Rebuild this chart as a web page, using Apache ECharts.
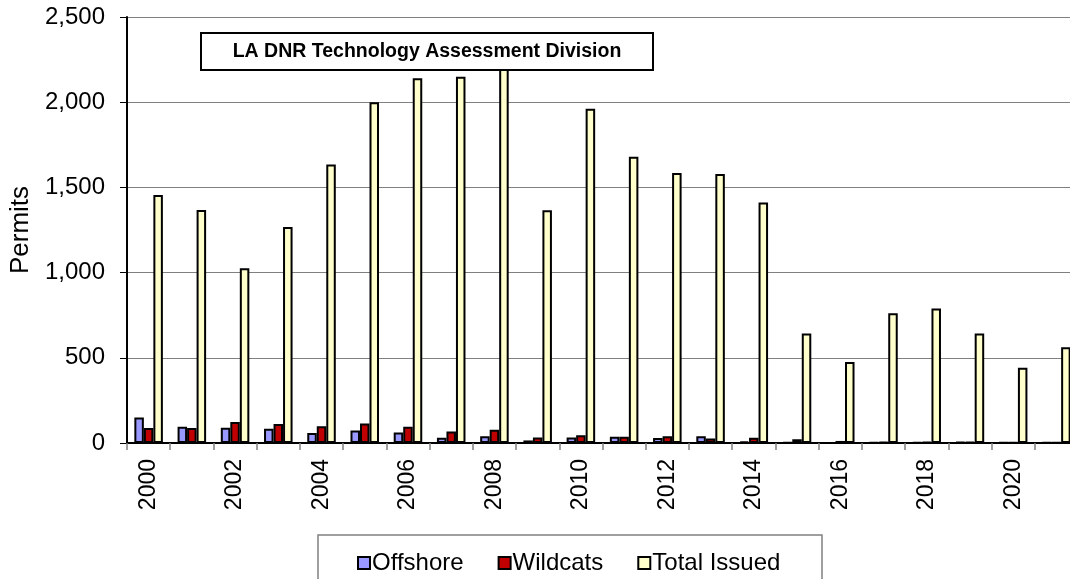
<!DOCTYPE html>
<html lang="en">
<head>
<meta charset="utf-8" />
<title>Permits</title>
<script src="https://cdn.jsdelivr.net/npm/echarts@6/dist/echarts.min.js"></script>
<style>
  html, body { margin: 0; padding: 0; background: #fff; }
  #chart { width: 1070px; height: 579px; }
</style>
</head>
<body>
<div id="chart"></div>
<script type="text/javascript">
// data
const years = ['2000', '2001', '2002', '2003', '2004', '2005', '2006', '2007', '2008', '2009', '2010',
               '2011', '2012', '2013', '2014', '2015', '2016', '2017', '2018', '2019', '2020', '2021'];
const offshore = [150, 96, 90, 84, 59, 74, 62, 31, 39, 15, 33, 37, 29, 39, 8, 4, 1, 3, 4, 5, 2, 2];
const wildcats = [88, 88, 123, 112, 98, 115, 96, 68, 78, 33, 45, 37, 39, 27, 31, 22, 12, 6, 6, 5, 3, 4];
const totalIssued = [1455, 1368, 1025, 1268, 1635, 2000, 2140, 2150, 2220, 1366, 1961,
                     1680, 1584, 1578, 1412, 643, 476, 761, 790, 643, 441, 562];
const seriesNames = ['Offshore', 'Wildcats', 'Total Issued'];
const titleText = 'LA DNR Technology Assessment Division';

const font = '"Liberation Sans", Arial, sans-serif';
const chart = echarts.init(document.getElementById('chart'));

function barSeries(name, data, color) {
  return {
    name: name,
    type: 'bar',
    data: data,
    barGap: '0%',
    barCategoryGap: '34%',
    itemStyle: { color: color, borderColor: '#000', borderWidth: 2 },
    animation: false
  };
}

const option = {
  animation: false,
  textStyle: { fontFamily: font },
  grid: { left: 127, right: -8, top: 17, bottom: 136, containLabel: false, outerBoundsMode: 'none' },
  legend: {
    data: seriesNames,
    left: 352,
    top: 546,
    icon: 'rect',
    itemWidth: 12,
    itemHeight: 12,
    itemGap: 34,
    textStyle: { fontSize: 24, color: '#000', fontFamily: font, padding: [0, 0, 0, -3] }
  },
  xAxis: {
    type: 'category',
    data: years,
    axisLine: { lineStyle: { color: '#000', width: 2 } },
    axisTick: { show: true, length: 7, interval: 0, lineStyle: { color: '#808080', width: 1.5 } },
    axisLabel: { rotate: 90, interval: 1, margin: 16, fontSize: 23, color: '#000', fontFamily: font }
  },
  yAxis: {
    type: 'value',
    min: 0,
    max: 2500,
    interval: 500,
    name: 'Permits',
    nameLocation: 'middle',
    nameGap: 92,
    nameTextStyle: { fontSize: 26, color: '#000', fontFamily: font },
    axisLine: { show: true, lineStyle: { color: '#000', width: 2 } },
    axisTick: { show: true, length: 7, lineStyle: { color: '#000' } },
    axisLabel: {
      margin: 22, fontSize: 24, color: '#000', fontFamily: font,
      formatter: function (v) { return v.toLocaleString('en-US'); }
    },
    splitLine: { show: true, lineStyle: { color: '#808080', width: 1 } }
  },
  series: [
    barSeries(seriesNames[0], offshore, '#9999FF'),
    barSeries(seriesNames[1], wildcats, '#C00000'),
    barSeries(seriesNames[2], totalIssued, '#FFFFCC')
  ],
  graphic: [
    {
      type: 'rect', z: 100,
      shape: { x: 201, y: 33, width: 452, height: 37 },
      style: { fill: '#fff', stroke: '#000', lineWidth: 2 }
    },
    {
      type: 'text', z: 101, x: 427, y: 52,
      style: {
        text: titleText, fontSize: 19.5, fontWeight: 'bold', fontFamily: font,
        fill: '#000', align: 'center', verticalAlign: 'middle'
      }
    },
    {
      type: 'rect', z: -1,
      shape: { x: 318, y: 535, width: 504, height: 60 },
      style: { fill: '#fff', stroke: '#808080', lineWidth: 1.5 }
    }
  ]
};

chart.setOption(option);
window.onresize = function () { chart.resize(); };
</script>
</body>
</html>
